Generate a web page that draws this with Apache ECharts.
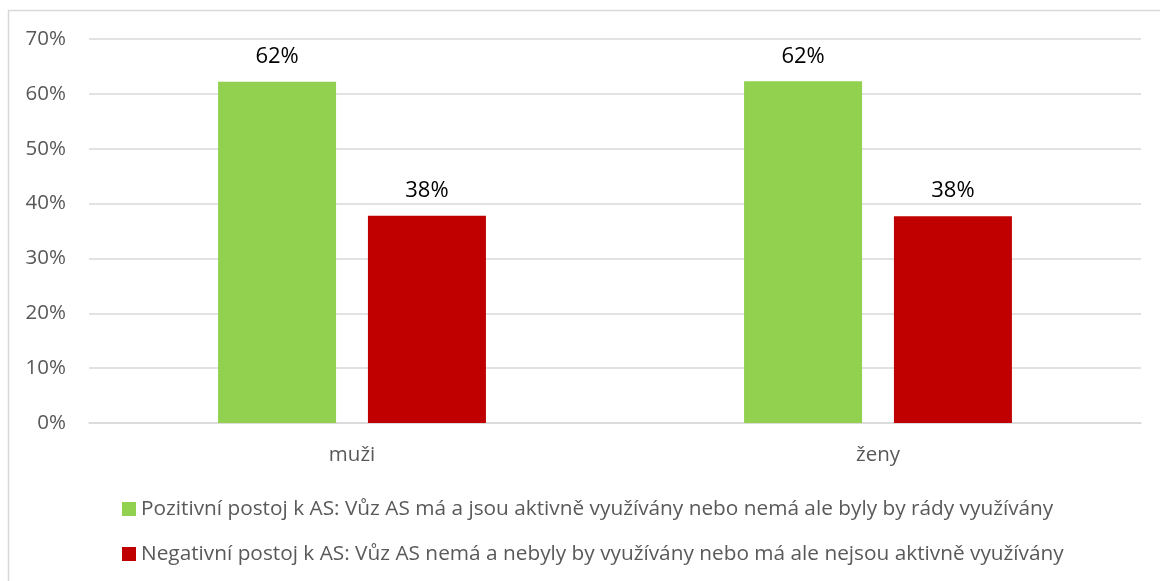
<!DOCTYPE html>
<html>
<head>
<meta charset="utf-8">
<script src="https://cdn.jsdelivr.net/npm/echarts@6/dist/echarts.min.js"></script>
<style>
html, body { margin: 0; padding: 0; background: #fff; }
#chart { width: 1160px; height: 581px; }
</style>
</head>
<body>
<div id="chart"></div>
<script>
var categories = ['muži', 'ženy'];
var seriesNames = [
	'Pozitivní postoj k AS: Vůz AS má a jsou aktivně využívány nebo nemá ale byly by rády využívány',
	'Negativní postoj k AS: Vůz AS nemá a nebyly by využívány nebo má ale nejsou aktivně využívány'
];
var positiveValues = [62.2, 62.3];
var negativeValues = [37.8, 37.7];
var yTicks = [0, 10, 20, 30, 40, 50, 60, 70];

var font = 'Open Sans';
var myChart = echarts.init(document.getElementById('chart'));

function barSeries(name, data, color){
	return {
		name : name,
		type : 'bar',
		data : data,
		barWidth : 118,
		barGap : '27%',
		itemStyle : { color : color },
		label : {
			show : true,
			position : 'top',
			distance : 14,
			color : '#000',
			fontFamily : font,
			fontSize : 22,
			formatter : function(p){ return Math.round(p.value) + '%'; }
		}
	};
}

myChart.setOption({
	animation : false,
	graphic : [ {
		type : 'rect',
		shape : { x : 8.5, y : 10.5, width : 1300, height : 700 },
		style : { fill : 'none', stroke : '#d9d9d9', lineWidth : 1.5 },
		silent : true
	} ],
	grid : {
		left : 89,
		right : 19,
		top : 39,
		bottom : 158
	},
	legend : {
		orient : 'vertical',
		left : 117,
		top : 493,
		icon : 'rect',
		itemWidth : 14,
		itemHeight : 14,
		itemGap : 23,
		textStyle : {
			color : '#595959',
			fontFamily : font,
			fontSize : 20.8,
			lineHeight : 22
		},
		data : seriesNames
	},
	xAxis : [ {
		type : 'category',
		data : categories,
		axisLine : { lineStyle : { color : '#d9d9d9', width : 1.5 } },
		axisTick : { show : false },
		axisLabel : {
			color : '#595959',
			fontFamily : font,
			fontSize : 20.5,
			margin : 22
		}
	} ],
	yAxis : [ {
		type : 'value',
		min : yTicks[0],
		max : yTicks[yTicks.length - 1],
		interval : 10,
		axisLine : { show : false },
		axisTick : { show : false },
		splitLine : { lineStyle : { color : '#d9d9d9', width : 1.5 } },
		axisLabel : {
			color : '#595959',
			fontFamily : font,
			fontSize : 20.5,
			margin : 23,
			formatter : '{value}%'
		}
	} ],
	series : [
		barSeries(seriesNames[0], positiveValues, '#92d050'),
		barSeries(seriesNames[1], negativeValues, '#c00000')
	]
});
</script>
</body>
</html>
